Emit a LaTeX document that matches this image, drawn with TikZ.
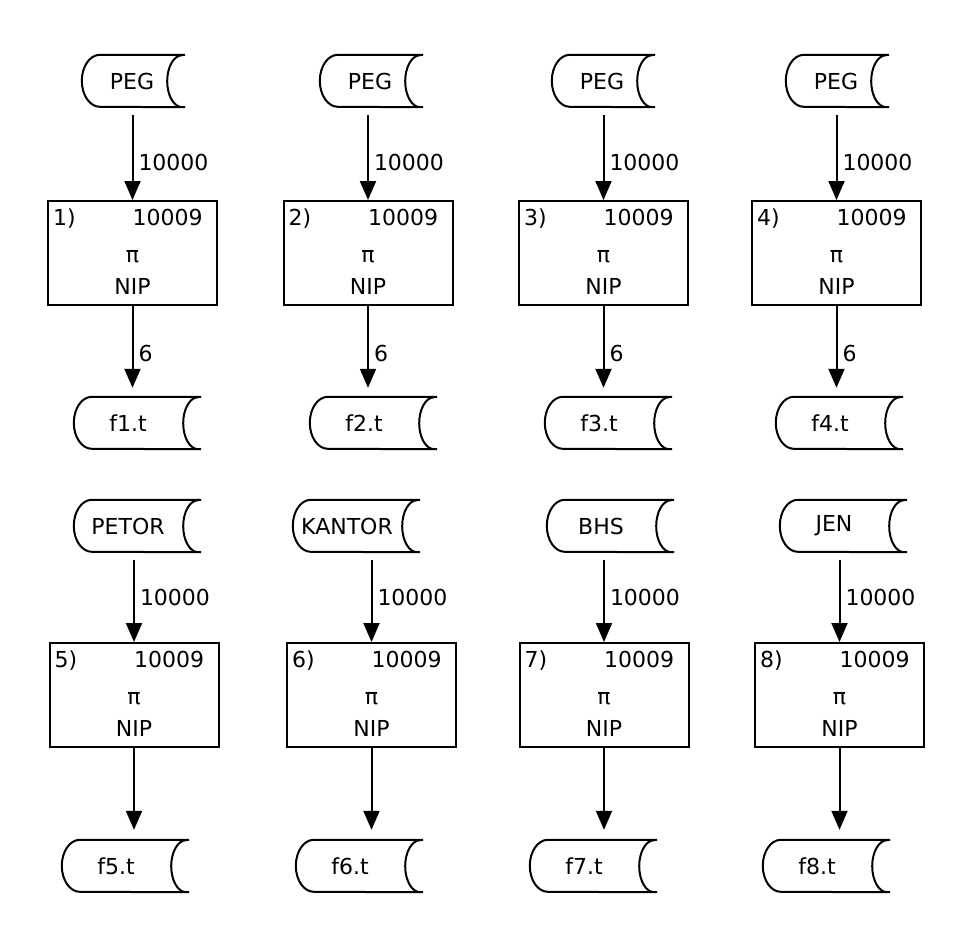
\documentclass[tikz,border=0pt]{standalone}
\usepackage{fontspec}
\setmainfont{DejaVu Sans}
\usetikzlibrary{arrows.meta}

\tikzset{
	store/.style={minimum width=100pt, minimum height=52pt, inner sep=0pt},
	storewide/.style={store, minimum width=124pt, execute at end node={\hspace{16pt}}},
	proc/.style={draw, line width=2pt, minimum width=169pt, minimum height=104pt, inner sep=0pt},
	flow/.style={line width=2pt, -{Triangle[length=19pt,width=16pt]}},
	lbl/.style={anchor=west, inner sep=0pt, xshift=5pt},
	txt/.style={inner sep=0pt}
}

% outline of a stored-data node
\newcommand\storeline[1]{%
	\draw[line width=2pt] ([xshift=3pt]#1.north east) -- ([xshift=18pt]#1.north west)
		arc[start angle=90, end angle=270, x radius=18pt, y radius=26pt]
		-- ([xshift=3pt]#1.south east) -- (#1.south east)
		arc[start angle=270, end angle=90, x radius=15pt, y radius=26pt];}

% texts inside a process box
\newcommand\proctext[1]{%
	\node[txt, anchor=base west] (n#1) at ([xshift=6pt, yshift=-25pt]b#1.north west) {#1)};
	\node[txt, anchor=base west] (c#1) at ([yshift=-25pt]b#1.north) {10009};
	\node[txt, anchor=base] (p#1) at ([yshift=-62pt]b#1.north) {π};
	\node[txt, anchor=base] (m#1) at ([yshift=-94pt]b#1.north) {NIP};}

\begin{document}
\begin{tikzpicture}[x=1pt, y=-1pt, font=\fontsize{22pt}{26pt}\selectfont]
	\useasboundingbox (0,0) rectangle (975,938);

	% upper row
	\foreach \i/\sx/\bx/\fx in {1/132/132.5/136, 2/370/368/372, 3/602/603.5/607, 4/836/836.5/838}{
		\node[store] (s\i) at (\sx,81) {PEG};
		\storeline{s\i}
		\node[proc] (b\i) at (\bx,253) {};
		\proctext{\i}
		\node[storewide] (f\i) at (\fx,423) {f\i.t};
		\storeline{f\i}
		\draw[flow, shorten <=8pt] (b\i.north |- s\i.south) -- (b\i.north) node[lbl, pos=0.6] {10000};
		\draw[flow, shorten >=9pt] (b\i.south) -- (b\i.south |- f\i.north) node[lbl, pos=0.52] {6};
	}

	% lower row
	\foreach \i/\src/\sx/\bx/\fx in {5/PETOR/136/134/124, 6/KANTOR/355/371.5/358, 7/BHS/609/604/592, 8/JEN/842/839.5/825}{
		\node[storewide] (s\i) at (\sx,526) {\src};
		\storeline{s\i}
		\node[proc] (b\i) at (\bx,695) {};
		\proctext{\i}
		\node[storewide] (f\i) at (\fx,866) {f\i.t};
		\storeline{f\i}
		\draw[flow, shorten <=8pt] (b\i.north |- s\i.south) -- (b\i.north) node[lbl, pos=0.5] {10000};
		\draw[flow, shorten >=10pt] (b\i.south) -- (b\i.south |- f\i.north);
	}
\end{tikzpicture}
\end{document}
